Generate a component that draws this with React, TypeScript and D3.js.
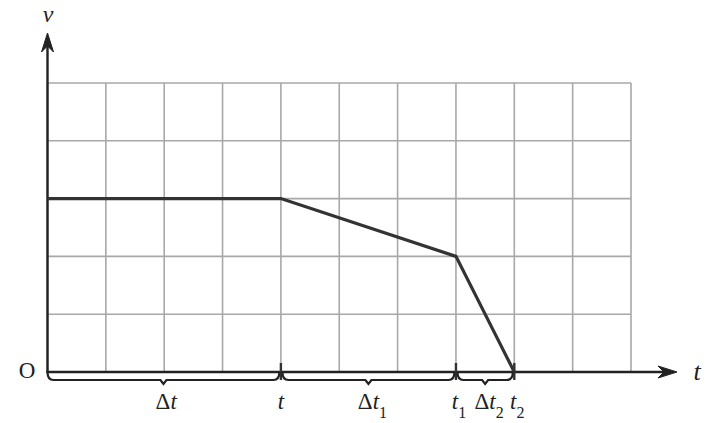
import React from "react";
import * as d3 from "d3";

const times = [0, 4, 7, 8];
const speeds = [3, 3, 2, 0];
const gridX = d3.range(0, 11);
const gridY = d3.range(0, 6);
const braces = [
  { from: 0, to: 4, label: "Δt", sub: "" },
  { from: 4, to: 7, label: "Δt", sub: "1" },
  { from: 7, to: 8, label: "Δt", sub: "2" },
];
const tickMarks = [
  { at: 4, label: "t", sub: "" },
  { at: 7, label: "t", sub: "1" },
  { at: 8, label: "t", sub: "2" },
];

const W = 713, H = 423;
const SERIF = "'Liberation Serif', 'Times New Roman', 'DejaVu Serif', serif";
const x = d3.scaleLinear().domain([0, 10]).range([47.5, 631]);
const y = d3.scaleLinear().domain([0, 5]).range([372, 83]);

function bracePath(x0: number, x1: number, yTop: number) {
  const r = 6;
  const yb = yTop + 8;
  const mid = (x0 + x1) / 2;
  const tip = yb + 4;
  return `M${x0},${yTop} Q${x0},${yb} ${x0 + r},${yb} L${mid - 3},${yb} L${mid},${tip} L${mid + 3},${yb} L${x1 - r},${yb} Q${x1},${yb} ${x1},${yTop}`;
}

function Label({ cx, cy, delta, main, sub }: { cx: number; cy: number; delta: boolean; main: string; sub: string }) {
  return (
    <text x={cx} y={cy} textAnchor="middle" fontFamily={SERIF} fontSize={23} fill="#222">
      {delta ? <tspan>Δ</tspan> : null}
      <tspan fontStyle="italic">{main}</tspan>
      {sub ? <tspan fontSize={16} dy={9}>{sub}</tspan> : null}
    </text>
  );
}

export default function App() {
  const line = d3.line<number>().x((_, i) => x(times[i])).y((d) => y(d));
  const y0 = y(0);
  return (
    <svg width={W} height={H} style={{ position: "absolute", left: 0, top: 0 }}>
      <rect width={W} height={H} fill="#fff" />
      {gridX.map((g) => (
        <line key={"gx" + g} x1={x(g)} x2={x(g)} y1={y(5)} y2={y(0)} stroke="#a8a8a8" strokeWidth={1.6} />
      ))}
      {gridY.map((g) => (
        <line key={"gy" + g} x1={x(0)} x2={x(10)} y1={y(g)} y2={y(g)} stroke="#a8a8a8" strokeWidth={1.6} />
      ))}
      {/* axes */}
      <line x1={x(0)} x2={x(0)} y1={y0 + 1} y2={40} stroke="#222" strokeWidth={2.4} />
      <path d={`M${x(0)},33 L${x(0) + 6},52 L${x(0)},46 L${x(0) - 6},52 Z`} fill="#222" stroke="#222" strokeWidth={1} />
      <line x1={x(0) - 1} x2={670} y1={y0} y2={y0} stroke="#222" strokeWidth={2.4} />
      <path d={`M677,${y0} L658,${y0 - 6} L664,${y0} L658,${y0 + 6} Z`} fill="#222" stroke="#222" strokeWidth={1} />
      <text x={48} y={22} textAnchor="middle" fontFamily={SERIF} fontStyle="italic" fontSize={24} fill="#222">v</text>
      <text x={697} y={380} textAnchor="middle" fontFamily={SERIF} fontStyle="italic" fontSize={26} fill="#222">t</text>
      <text x={27} y={378} textAnchor="middle" fontFamily={SERIF} fontSize={23} fill="#222">O</text>
      {/* data line */}
      <path d={line(speeds) || ""} fill="none" stroke="#333" strokeWidth={3.2} strokeLinejoin="miter" />
      {/* tick marks */}
      {tickMarks.map((t) => (
        <line key={"tm" + t.at} x1={x(t.at)} x2={x(t.at)} y1={y0 - 9} y2={y0 + 8} stroke="#333" strokeWidth={2.4} />
      ))}
      {/* braces */}
      {braces.map((b, i) => (
        <path key={"br" + i} d={bracePath(x(b.from) + (i ? 1.5 : 0), x(b.to) - 1.5, y0)} fill="none" stroke="#222" strokeWidth={2.2} />
      ))}
      {braces.map((b, i) => (
        <Label key={"bl" + i} cx={(x(b.from) + x(b.to)) / 2 + (b.sub ? 4 : 2)} cy={409} delta={true} main="t" sub={b.sub} />
      ))}
      {tickMarks.map((t) => (
        <Label key={"tl" + t.at} cx={x(t.at) + (t.sub ? 3 : 0)} cy={409} delta={false} main={t.label} sub={t.sub} />
      ))}
    </svg>
  );
}
